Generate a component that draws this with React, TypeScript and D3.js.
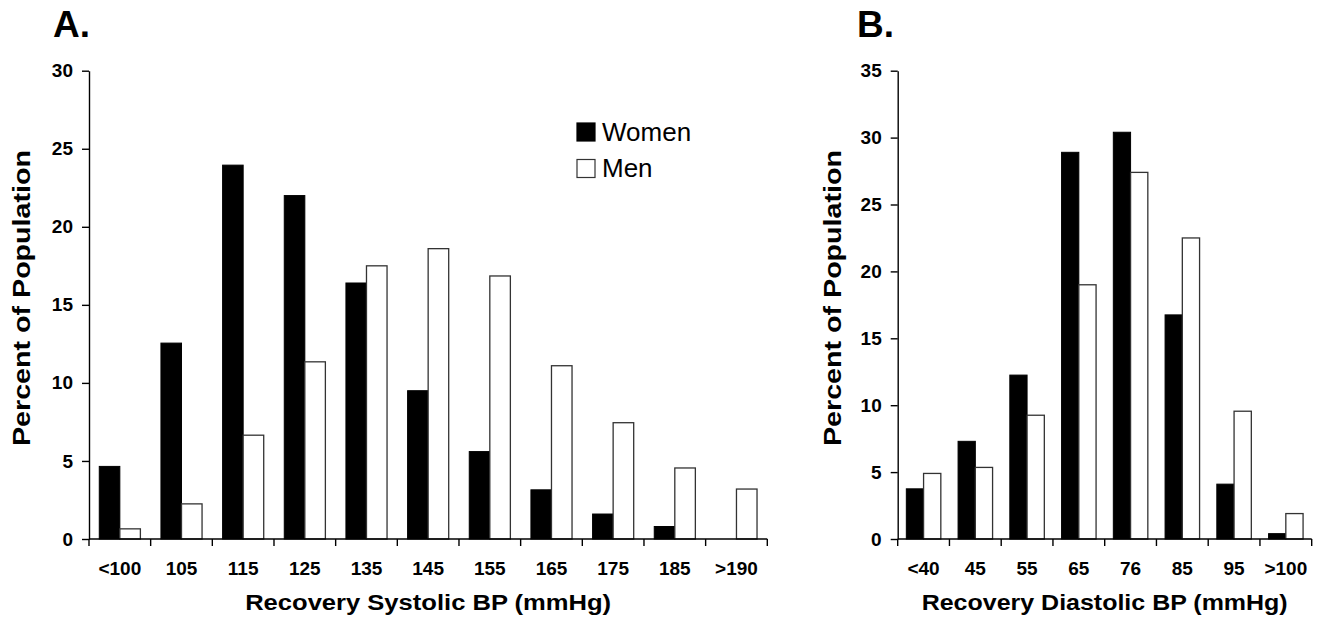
import React, { useEffect, useRef } from 'react';
import * as d3 from 'd3';

// Panel A: recovery systolic BP
const systolicCats = ['<100', '105', '115', '125', '135', '145', '155', '165', '175', '185', '>190'];
const systolicWomen = [4.65, 12.55, 23.95, 22.0, 16.4, 9.5, 5.6, 3.15, 1.6, 0.8, 0];
const systolicMen = [0.65, 2.25, 6.65, 11.35, 17.5, 18.6, 16.85, 11.1, 7.45, 4.55, 3.2];
const systolicTicks = [0, 5, 10, 15, 20, 25, 30];

// Panel B: recovery diastolic BP
const diastolicCats = ['<40', '45', '55', '65', '76', '85', '95', '>100'];
const diastolicWomen = [3.75, 7.3, 12.25, 28.9, 30.4, 16.75, 4.1, 0.4];
const diastolicMen = [4.9, 5.35, 9.25, 19.0, 27.4, 22.5, 9.55, 1.9];
const diastolicTicks = [0, 5, 10, 15, 20, 25, 30, 35];

const seriesNames = ['Women', 'Men'];

const FONT = '"Liberation Sans", Arial, sans-serif';

const App = () => {
    const ref = useRef<SVGSVGElement>(null);

    useEffect(() => {
        const svg = d3.select(ref.current);
        svg.selectAll('*').remove();

        const top = 70.7;
        const bottom = 539;

        const drawPanel = (opts) => {
            const { cats, women, men, ticks, x0, x1, letter, letterX, xTitle, yTitleX } = opts;
            const g = svg.append('g');

            const xScale = d3.scaleBand().domain(cats).range([x0, x1]).padding(0);
            const yScale = d3.scaleLinear().domain([0, ticks[ticks.length - 1]]).range([bottom, top]);
            const bw = xScale.bandwidth();

            // bars
            cats.forEach((c, i) => {
                const bx = xScale(c) + bw / 6;
                if (women[i] > 0) {
                    g.append('rect')
                        .attr('x', bx)
                        .attr('y', yScale(women[i]))
                        .attr('width', bw / 3)
                        .attr('height', bottom - yScale(women[i]))
                        .attr('fill', '#000')
                        .attr('stroke', '#000')
                        .attr('stroke-width', 1);
                }
                g.append('rect')
                    .attr('x', bx + bw / 3)
                    .attr('y', yScale(men[i]))
                    .attr('width', bw / 3)
                    .attr('height', bottom - yScale(men[i]))
                    .attr('fill', '#fff')
                    .attr('stroke', '#333')
                    .attr('stroke-width', 1.3);
            });

            // y axis
            const yAxis = g.append('g')
                .attr('transform', `translate(${x0},0)`)
                .call(d3.axisLeft(yScale).tickValues(ticks).tickSize(7).tickSizeOuter(0).tickPadding(9));
            yAxis.select('.domain').attr('stroke', '#000').attr('stroke-width', 1.4);
            yAxis.selectAll('.tick line').attr('stroke', '#000').attr('stroke-width', 1.4);
            yAxis.selectAll('.tick text')
                .attr('fill', '#000')
                .style('font-family', FONT)
                .style('font-size', '19px')
                .style('font-weight', 'bold');

            // x axis: baseline plus ticks at the category boundaries
            g.append('line')
                .attr('x1', x0).attr('x2', x1)
                .attr('y1', bottom).attr('y2', bottom)
                .attr('stroke', '#000').attr('stroke-width', 1.4);
            const bounds = cats.map(c => xScale(c)).concat([x1]);
            g.selectAll('.xt').data(bounds).enter().append('line')
                .attr('x1', d => d).attr('x2', d => d)
                .attr('y1', bottom).attr('y2', bottom + 7)
                .attr('stroke', '#000').attr('stroke-width', 1.4);
            g.selectAll('.xl').data(cats).enter().append('text')
                .attr('x', d => xScale(d) + bw / 2)
                .attr('y', 575)
                .attr('text-anchor', 'middle')
                .style('font-family', FONT)
                .style('font-size', '19px')
                .style('font-weight', 'bold')
                .text(d => d);

            // titles
            g.append('text')
                .attr('x', (x0 + x1) / 2)
                .attr('y', 610)
                .attr('text-anchor', 'middle')
                .attr('textLength', 366)
                .attr('lengthAdjust', 'spacingAndGlyphs')
                .style('font-family', FONT)
                .style('font-size', '22px')
                .style('font-weight', 'bold')
                .text(xTitle);

            g.append('text')
                .attr('transform', `translate(${yTitleX + 8},298) rotate(-90)`)
                .attr('text-anchor', 'middle')
                .attr('textLength', 296)
                .attr('lengthAdjust', 'spacingAndGlyphs')
                .style('font-family', FONT)
                .style('font-size', '23px')
                .style('font-weight', 'bold')
                .text('Percent of Population');

            g.append('text')
                .attr('x', letterX)
                .attr('y', 37)
                .style('font-family', FONT)
                .style('font-size', '37px')
                .style('font-weight', 'bold')
                .text(letter);
        };

        drawPanel({
            cats: systolicCats, women: systolicWomen, men: systolicMen, ticks: systolicTicks,
            x0: 89, x1: 767.3, letter: 'A.', letterX: 53, xTitle: 'Recovery Systolic BP (mmHg)', yTitleX: 22
        });
        drawPanel({
            cats: diastolicCats, women: diastolicWomen, men: diastolicMen, ticks: diastolicTicks,
            x0: 897.7, x1: 1311.7, letter: 'B.', letterX: 857, xTitle: 'Recovery Diastolic BP (mmHg)', yTitleX: 833
        });

        // legend
        const legend = svg.append('g');
        seriesNames.forEach((name, i) => {
            legend.append('rect')
                .attr('x', 577)
                .attr('y', 123 + i * 36.5)
                .attr('width', 18)
                .attr('height', 18)
                .attr('fill', i === 0 ? '#000' : '#fff')
                .attr('stroke', i === 0 ? '#000' : '#333')
                .attr('stroke-width', 1.2);
            legend.append('text')
                .attr('x', 602)
                .attr('y', 141 + i * 36)
                .style('font-family', FONT)
                .style('font-size', '26px')
                .text(name);
        });
    }, []);

    return (
        <svg ref={ref} width={1342} height={623}
            style={{ position: 'absolute', left: 0, top: 0, background: '#fff' }} />
    );
};

export default App;
